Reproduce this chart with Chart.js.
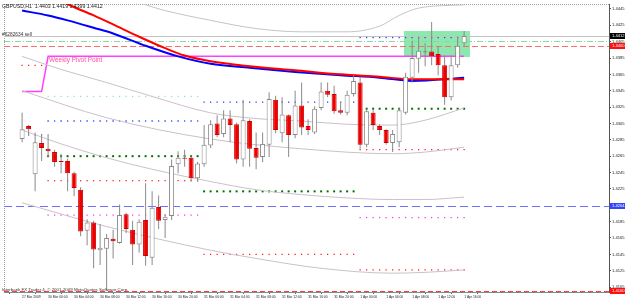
<!DOCTYPE html>
<html>
<head>
<meta charset="utf-8">
<script src="https://cdn.jsdelivr.net/npm/chart.js@4.4.1/dist/chart.umd.min.js"></script>
<style>
  html, body { margin: 0; padding: 0; background: #fff; }
  #wrap { width: 625px; height: 301px; }
</style>
</head>
<body>
<div id="wrap"><canvas id="priceChart"></canvas></div>
<script>
// GBPUSD H1, 27 Mar 20:00 .. 1 Apr 16:00 (bar index 0..68)
const OPEN  = [1.4286,1.4302,1.4243,1.4281,1.4274,1.4270,1.4259,1.4259,1.4244,1.4224,1.4174,1.4184,1.4150,1.4152,1.4164,1.4159,1.4194,1.4175,1.4157,1.4187,1.4141,1.4203,1.4187,1.4192,1.4255,1.4263,1.4263,1.4238,1.4255,1.4278,1.4305,1.4292,1.4311,1.4304,1.4261,1.4308,1.4275,1.4264,1.4279,1.4334,1.4293,1.4315,1.4291,1.4327,1.4302,1.4294,1.4324,1.4345,1.4341,1.4321,1.4318,1.4341,1.4355,1.4279,1.4318,1.4302,1.4297,1.4281,1.4282,1.4318,1.4361,1.4384,1.4393,1.4393,1.4390,1.4376,1.4337,1.4376,1.4403];
const HIGH  = [1.4318,1.4303,1.4294,1.4292,1.4292,1.4273,1.4268,1.4262,1.4246,1.4227,1.4188,1.4186,1.4182,1.4170,1.4175,1.4206,1.4196,1.4186,1.4188,1.4232,1.4222,1.4217,1.4194,1.4261,1.4271,1.4273,1.4265,1.4258,1.4303,1.4309,1.4315,1.4321,1.4321,1.4306,1.4334,1.4310,1.4294,1.4294,1.4343,1.4339,1.4337,1.4316,1.4345,1.4355,1.4310,1.4326,1.4355,1.4355,1.4351,1.4331,1.4345,1.4364,1.4362,1.4322,1.4321,1.4304,1.4298,1.4297,1.4324,1.4367,1.4406,1.4411,1.4403,1.4429,1.4399,1.4388,1.4388,1.4411,1.4418];
const LOW   = [1.4282,1.4290,1.4222,1.4259,1.4264,1.4252,1.4244,1.4222,1.4216,1.4167,1.4156,1.4128,1.4132,1.4102,1.4140,1.4158,1.4171,1.4132,1.4147,1.4131,1.4132,1.4176,1.4165,1.4187,1.4244,1.4252,1.4234,1.4234,1.4252,1.4275,1.4288,1.4288,1.4282,1.4256,1.4252,1.4252,1.4249,1.4258,1.4264,1.4293,1.4282,1.4264,1.4287,1.4291,1.4291,1.4292,1.4321,1.4337,1.4317,1.4316,1.4315,1.4338,1.4274,1.4276,1.4297,1.4291,1.4279,1.4270,1.4276,1.4316,1.4355,1.4367,1.4375,1.4376,1.4364,1.4328,1.4333,1.4373,1.4399];
const CLOSE = [1.4298,1.4298,1.4282,1.4275,1.4271,1.4258,1.4258,1.4244,1.4226,1.4173,1.4184,1.4151,1.4153,1.4165,1.4161,1.4193,1.4176,1.4157,1.4185,1.4143,1.4202,1.4186,1.4191,1.4253,1.4263,1.4262,1.4238,1.4256,1.4279,1.4304,1.4291,1.4311,1.4303,1.4261,1.4309,1.4274,1.4263,1.4280,1.4335,1.4297,1.4316,1.4291,1.4327,1.4300,1.4297,1.4323,1.4344,1.4340,1.4320,1.4318,1.4340,1.4357,1.4279,1.4320,1.4303,1.4297,1.4281,1.4292,1.4321,1.4362,1.4385,1.4394,1.4392,1.4387,1.4376,1.4337,1.4376,1.4400,1.4412];

// moving averages and bands: [bar, price]
const MA_RED  = [[0,1.4485],[4,1.4465],[7,1.4451],[11,1.4437],[14,1.4426],[18,1.4411],[22,1.4397],[25,1.4388],[29,1.4381],[35,1.4375],[42,1.4370],[49,1.4365],[55,1.4362],[60,1.4359],[68,1.4359]];
const MA_BLUE = [[0,1.4443],[4,1.4437],[7,1.4431],[11,1.4422],[14,1.4415],[19,1.4400],[24,1.4387],[29,1.4378],[35,1.4373],[42,1.4368],[49,1.4364],[55,1.4361],[60,1.4357],[68,1.4361]];
const BAND_OUTER_UP = [[0,1.4499],[10,1.4475],[14,1.4463],[19,1.4450],[22,1.4443],[29,1.4431],[36,1.4421],[43,1.4417],[50,1.4417],[55,1.4424],[58,1.4437],[61,1.4446],[68,1.4450]];
const BAND_UP  = [[0,1.4387],[6,1.4371],[13,1.4355],[20,1.4338],[29,1.4318],[36,1.4311],[43,1.4308],[50,1.4304],[57,1.4303],[62,1.4309],[68,1.4324]];
const BAND_MID = [[0,1.4345],[13,1.4312],[29,1.4286],[43,1.4274],[57,1.4268],[62,1.4270],[68,1.4276]];
const BAND_LOW = [[0,1.4297],[6,1.4280],[13,1.4263],[20,1.4249],[29,1.4234],[36,1.4224],[43,1.4218],[50,1.4214],[57,1.4212],[62,1.4212],[68,1.4215]];
const BAND_OUTER_LOW = [[0,1.4208],[13,1.4179],[29,1.4150],[36,1.4140],[46,1.4128],[57,1.4122],[62,1.4123],[68,1.4126]];
const WEEKLY_PIVOT = [[0,1.4344],[3,1.4344],[4,1.4387],[68,1.4387]];

// daily levels: [first bar, last bar, price]
const R2_LEVELS = [[4,27,1.4338]];
const R1_LEVELS = [[4,27,1.4308],[28,51,1.4331],[52,68,1.4410]];
const PIVOT_LEVELS = [[4,27,1.4265],[28,51,1.4222],[52,68,1.4323]];
const S1_LEVELS = [[0,3,1.4376],[4,27,1.4235],[28,51,1.4145],[52,68,1.4273],[52,68,1.4126]];
const S2_LEVELS = [[1,3,1.4291],[4,27,1.4193],[52,68,1.4190]];

const ZONE_BARS = [58.7, 68.8];
const ZONE_PRICES = [1.4418, 1.4386];
const BID_PRICE = 1.4412;
const ORDER_PRICE = 1.4406;
const STOP_PRICE = 1.4400;
const HLINE_PRICE = 1.4204;
const TARGET_PRICE = 1.4100;

const Y_TICKS = [1.4445,1.4425,1.4405,1.4385,1.4365,1.4345,1.4325,1.4305,1.4285,1.4265,1.4245,1.4225,1.4205,1.4185,1.4165,1.4145,1.4125,1.4105];
const TIME_TICK_BARS = [0,4,8,12,16,20,24,28,32,36,40,44,48,52,56,60,64,68];
const TIME_TICK_TEXT = ['27 Mar 2009','30 Mar 00:00','30 Mar 04:00','30 Mar 08:00','30 Mar 12:00','30 Mar 16:00','30 Mar 20:00','31 Mar 00:00','31 Mar 04:00','31 Mar 08:00','31 Mar 12:00','31 Mar 16:00','31 Mar 20:00','1 Apr 00:00','1 Apr 04:00','1 Apr 08:00','1 Apr 12:00','1 Apr 16:00'];

const TITLE = 'GBPUSD,H1  1.4403 1.4419 1.4399 1.4412';
const ORDER_TEXT = '#6282634 sell';
const PIVOT_TEXT = 'Weekly Pivot Point';
const COPYRIGHT = 'Interbank FX Trader 4, \u00a9 2001-2009 MetaQuotes Software Corp.';

const FONT = 'Liberation Sans';

function isUp(i) { return CLOSE[i] >= OPEN[i]; }

function lineSet(points, color, width, order) {
    return {
        type: 'line',
        data: points.map(p => ({ x: p[0], y: p[1] })),
        borderColor: color,
        borderWidth: width,
        pointRadius: 0,
        cubicInterpolationMode: 'monotone',
        order: order
    };
}

function dotSet(levels, color, radius) {
    let pts = [];
    levels.forEach(l => {
        for (let b = l[0]; b <= l[1]; b++) pts.push({ x: b, y: l[2] });
    });
    return {
        type: 'line',
        data: pts,
        showLine: false,
        pointStyle: 'rect',
        pointRadius: radius,
        pointBackgroundColor: color,
        pointBorderWidth: 0,
        order: 5
    };
}

// rectangle, horizontal lines, texts and price tags
const overlay = {
    id: 'overlay',
    beforeDatasetsDraw(chart) {
        const { ctx, chartArea: a, scales: { x, y } } = chart;
        ctx.save();
        ctx.beginPath();
        ctx.rect(a.left, a.top, a.width, a.height);
        ctx.clip();

        // top / left frame
        ctx.strokeStyle = '#9a9a9a';
        ctx.lineWidth = 1;
        ctx.setLineDash([1, 1]);
        ctx.beginPath();
        ctx.moveTo(a.left, a.top + 0.5); ctx.lineTo(a.right, a.top + 0.5);
        ctx.moveTo(a.left + 0.5, a.top); ctx.lineTo(a.left + 0.5, a.bottom);
        ctx.stroke();

        const zx1 = x.getPixelForValue(ZONE_BARS[0]);
        const zx2 = x.getPixelForValue(ZONE_BARS[1]);
        const zy1 = y.getPixelForValue(ZONE_PRICES[0]);
        const zy2 = y.getPixelForValue(ZONE_PRICES[1]);
        ctx.fillStyle = 'rgb(140,232,172)';
        ctx.fillRect(Math.round(zx1), Math.round(zy1), Math.round(zx2 - zx1), Math.round(zy2 - zy1));

        const hline = (price, color, dash) => {
            const py = Math.round(y.getPixelForValue(price)) + 0.5;
            ctx.strokeStyle = color;
            ctx.setLineDash(dash);
            ctx.beginPath();
            ctx.moveTo(a.left, py);
            ctx.lineTo(a.right, py);
            ctx.stroke();
        };
        hline(BID_PRICE, '#c4c4c4', []);
        hline(ORDER_PRICE, '#8fd6a0', [6, 2, 1, 2]);
        hline(STOP_PRICE, '#ff6b6b', [6, 3]);
        hline(HLINE_PRICE, '#6f6fff', [8, 4]);
        hline(TARGET_PRICE, '#ff3a3a', [5, 3]);
        ctx.restore();
    },
    afterDraw(chart) {
        const { ctx, chartArea: a, scales: { x, y } } = chart;
        ctx.save();
        ctx.textBaseline = 'alphabetic';
        ctx.textAlign = 'left';

        ctx.fillStyle = '#222';
        ctx.font = '5.2px "' + FONT + '"';
        ctx.fillText(TITLE, 2, 7.5);

        ctx.font = '4.8px "' + FONT + '"';
        ctx.fillStyle = '#333';
        ctx.fillText(ORDER_TEXT, 2, 35.5);

        ctx.font = '4.4px "' + FONT + '"';
        ctx.fillText(COPYRIGHT, 2, 290.5);

        ctx.font = '6.4px "' + FONT + '"';
        ctx.fillStyle = '#ff4d9a';
        ctx.fillText(PIVOT_TEXT, x.getPixelForValue(4) + 1, y.getPixelForValue(WEEKLY_PIVOT[2][1]) + 6);

        const tag = (price, bg) => {
            const py = Math.round(y.getPixelForValue(price));
            ctx.fillStyle = bg;
            ctx.fillRect(a.right + 1, py - 3, 15, 6);
            ctx.fillStyle = '#fff';
            ctx.font = '4.1px "' + FONT + '"';
            ctx.textBaseline = 'middle';
            ctx.fillText(price.toFixed(4), a.right + 3, py + 0.3);
        };
        tag(BID_PRICE, '#000000');
        tag(STOP_PRICE, '#ff1010');
        tag(HLINE_PRICE, '#3344ff');
        tag(TARGET_PRICE, '#ff1010');
        ctx.restore();
    }
};

const config = {
    type: 'bar',
    data: {
        datasets: [
            {
                label: 'body',
                data: OPEN.map((o, i) => ({ x: i, y: [o, CLOSE[i]] })),
                backgroundColor: OPEN.map((o, i) => isUp(i) ? '#ffffff' : '#ee0000'),
                borderColor: OPEN.map((o, i) => isUp(i) ? '#888888' : '#d00000'),
                borderWidth: 1,
                borderSkipped: false,
                inflateAmount: 0,
                barThickness: 5,
                grouped: false,
                order: 0
            },
            {
                label: 'wick',
                data: OPEN.map((o, i) => ({ x: i, y: [LOW[i], HIGH[i]] })),
                backgroundColor: '#8a8a8a',
                borderWidth: 0,
                inflateAmount: 0,
                barThickness: 1,
                grouped: false,
                order: 1
            },
            lineSet(MA_RED, '#ff0000', 2, 2),
            lineSet(MA_BLUE, '#0000ff', 2, 2),
            lineSet(BAND_OUTER_UP, '#cbbfcb', 1, 3),
            lineSet(BAND_UP, '#cbbfcb', 1, 3),
            lineSet(BAND_MID, '#cbbfcb', 1, 3),
            lineSet(BAND_LOW, '#cbbfcb', 1, 3),
            lineSet(BAND_OUTER_LOW, '#cbbfcb', 1, 3),
            Object.assign(lineSet(WEEKLY_PIVOT, '#ff40ff', 1.5, 4), { cubicInterpolationMode: 'default', tension: 0 }),
            dotSet(R2_LEVELS, '#8fdcdc', 0.9),
            dotSet(R1_LEVELS, '#1f3cff', 0.9),
            dotSet(PIVOT_LEVELS, '#006f00', 1.4),
            dotSet(S1_LEVELS, '#ff2020', 0.9),
            dotSet(S2_LEVELS, '#ff30ff', 0.9)
        ]
    },
    options: {
        responsive: true,
        maintainAspectRatio: false,
        animation: false,
        events: [],
        layout: { padding: 0 },
        plugins: {
            legend: { display: false },
            tooltip: { enabled: false }
        },
        scales: {
            x: {
                type: 'linear',
                min: -0.2,
                max: 87.7,
                afterBuildTicks: s => { s.ticks = TIME_TICK_BARS.map(v => ({ value: v })); },
                afterFit: s => { s.height = 9; },
                ticks: {
                    autoSkip: false,
                    maxRotation: 0,
                    align: 'start',
                    padding: 1,
                    color: '#222',
                    font: { family: FONT, size: 3.3 },
                    callback: v => TIME_TICK_TEXT[TIME_TICK_BARS.indexOf(v)]
                },
                grid: { drawOnChartArea: false, tickLength: 2, color: '#666' },
                border: { color: '#888' }
            },
            y: {
                position: 'right',
                min: 1.4099,
                max: 1.4451,
                afterBuildTicks: s => { s.ticks = Y_TICKS.map(v => ({ value: v })); },
                afterFit: s => { s.width = 16; },
                ticks: {
                    autoSkip: false,
                    padding: 1,
                    color: '#222',
                    font: { family: FONT, size: 4.1 },
                    callback: v => v.toFixed(4)
                },
                grid: { drawOnChartArea: false, tickLength: 2, color: '#555' },
                border: { color: '#555' }
            }
        }
    },
    plugins: [overlay]
};

var chart = new Chart('priceChart', config);
</script>
</body>
</html>
